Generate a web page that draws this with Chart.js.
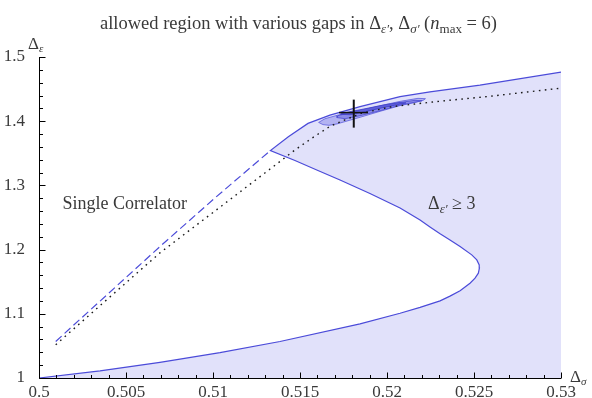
<!DOCTYPE html>
<html>
<head>
<meta charset="utf-8">
<script src="https://cdn.jsdelivr.net/npm/chart.js@4.4.1/dist/chart.umd.min.js"></script>
<style>
  html, body { margin: 0; padding: 0; background: #fff; }
  #wrap { width: 592px; height: 398px; }
</style>
</head>
<body>
<div id="wrap"><canvas id="chart" width="592" height="398"></canvas></div>
<script>
// lower boundary of the allowed region, (0.5, 1) out to the nose
const lowerX = [0.5, 0.50351, 0.50695, 0.5104, 0.51385, 0.51845, 0.52075, 0.5219, 0.52305, 0.52362, 0.5242, 0.52477, 0.52506, 0.52525, 0.52531];
const lowerY = [1.0, 1.0112, 1.0243, 1.0395, 1.0569, 1.0844, 1.1008, 1.1101, 1.1202, 1.1275, 1.1358, 1.1477, 1.1555, 1.1633, 1.1711];
// inner branch, nose back up to the kink
const innerX = [0.52531, 0.52529, 0.52516, 0.52487, 0.5242, 0.52362, 0.52305, 0.52247, 0.5219, 0.52075, 0.51902, 0.5173, 0.51603, 0.51471, 0.5133];
const innerY = [1.1711, 1.1762, 1.184, 1.1918, 1.2047, 1.2151, 1.2247, 1.2353, 1.2462, 1.2649, 1.2874, 1.3084, 1.3232, 1.3387, 1.3543];
// outer boundary, kink to the right edge
const outerX = [0.5133, 0.51433, 0.51546, 0.51672, 0.51845, 0.52075, 0.52247, 0.52534, 0.53];
const outerY = [1.3543, 1.3757, 1.3966, 1.4095, 1.4227, 1.4383, 1.4457, 1.4561, 1.4764];

// single correlator bound (dashed) and the other bound (dotted)
const dashX = [0.50096, 0.50695, 0.51011, 0.5133];
const dashY = [1.0569, 1.2047, 1.2804, 1.3543];
const dotX = [0.50096, 0.50695, 0.51328, 0.51471, 0.51569, 0.51672, 0.51759, 0.51856, 0.52029, 0.52282, 0.52575, 0.53];
const dotY = [1.0518, 1.1949, 1.3255, 1.3551, 1.3737, 1.3919, 1.4022, 1.4126, 1.4227, 1.4305, 1.4383, 1.4515];

// small islands near the Ising point
const isl1X = [0.51607, 0.51632, 0.51667, 0.51713, 0.51764, 0.51845, 0.5196, 0.52075, 0.52161, 0.52207, 0.52221, 0.52178, 0.52075, 0.51952, 0.51833, 0.51722, 0.51644, 0.51607];
const isl1Y = [1.3981, 1.3947, 1.3936, 1.3958, 1.3998, 1.4061, 1.4154, 1.4243, 1.4292, 1.4324, 1.4351, 1.4356, 1.4309, 1.4235, 1.416, 1.4098, 1.4039, 1.3981];
const isl2X = [0.51713, 0.51759, 0.51845, 0.5196, 0.52075, 0.52161, 0.52201, 0.52161, 0.52075, 0.5196, 0.51845, 0.51759, 0.51718, 0.51713];
const isl2Y = [1.4056, 1.4039, 1.4086, 1.4163, 1.425, 1.4297, 1.4319, 1.4325, 1.4292, 1.4222, 1.416, 1.4113, 1.4086, 1.4056];
const isl3X = [0.51736, 0.51787, 0.51874, 0.51989, 0.52075, 0.52109, 0.52063, 0.51989, 0.51874, 0.51787, 0.51741, 0.51736];
const isl3Y = [1.4107, 1.4101, 1.4148, 1.4219, 1.4266, 1.4285, 1.4288, 1.4257, 1.4194, 1.4148, 1.4123, 1.4107];

// Ising cross
const crossVX = [0.51809, 0.51809];
const crossVY = [1.39, 1.4336];
const crossHX = [0.51724, 0.51891];
const crossHY = [1.4134, 1.4134];

const xTickVals = [0.5, 0.505, 0.51, 0.515, 0.52, 0.525, 0.53];
const xTickLabels = ['0.5', '0.505', '0.51', '0.515', '0.52', '0.525', '0.53'];
const yTickVals = [1, 1.1, 1.2, 1.3, 1.4, 1.5];
const yTickLabels = ['1', '1.1', '1.2', '1.3', '1.4', '1.5'];

const SERIF = '"Liberation Serif", "DejaVu Serif", serif';
const TEXT = '#3a3a3a';
const BLUE = '#4b4bd9';

function pts(xs, ys) {
    return xs.map((x, i) => ({ x: x, y: ys[i] }));
}

const boundaryPts = pts(lowerX, lowerY).concat(pts(innerX, innerY), pts(outerX, outerY));
const regionPts = boundaryPts.concat([{ x: 0.53, y: 1.0 }]);

function lineSet(data, opts) {
    return Object.assign({
        data: data,
        showLine: true,
        pointRadius: 0,
        pointHoverRadius: 0,
        fill: false,
        tension: 0
    }, opts);
}

// rich text: runs of {t, f, dy}
function drawRuns(ctx, runs, x, y, align) {
    let total = 0;
    runs.forEach(r => {
        ctx.font = r.f;
        r.w = ctx.measureText(r.t).width;
        total += r.w;
    });
    let cx = align === 'center' ? x - total / 2 : x;
    runs.forEach(r => {
        ctx.font = r.f;
        ctx.fillText(r.t, cx, y + (r.dy || 0));
        cx += r.w;
    });
}

const MAIN = '18.5px ' + SERIF;
const SUB = 'italic 13px ' + SERIF;
const SUBUP = '13px ' + SERIF;

const frameTicks = {
    id: 'frameTicks',
    afterDatasetsDraw(chart) {
        const { ctx, chartArea: a, scales: { x, y } } = chart;
        const left = Math.floor(a.left) + 0.5;
        const bottom = Math.floor(a.bottom) + 0.5;
        ctx.save();
        ctx.strokeStyle = '#000';
        ctx.lineWidth = 1;
        ctx.beginPath();
        ctx.moveTo(left, Math.floor(a.top));
        ctx.lineTo(left, bottom);
        ctx.lineTo(Math.ceil(a.right), bottom);
        ctx.stroke();
        ctx.beginPath();
        // minor every 0.001 on x, every 0.02 on y
        for (let i = 0; i <= 30; i++) {
            const px = Math.round(x.getPixelForValue(0.5 + i * 0.001)) + 0.5;
            const len = i % 5 === 0 ? 6 : 3.5;
            ctx.moveTo(px, bottom);
            ctx.lineTo(px, bottom - len);
        }
        for (let i = 0; i <= 25; i++) {
            const py = Math.round(y.getPixelForValue(1 + i * 0.02)) + 0.5;
            const len = i % 5 === 0 ? 6 : 3.5;
            ctx.moveTo(left, py);
            ctx.lineTo(left + len, py);
        }
        ctx.stroke();
        ctx.restore();
    },
    afterDraw(chart) {
        const { ctx, chartArea: a, scales: { x, y } } = chart;
        ctx.save();
        ctx.fillStyle = TEXT;
        ctx.textBaseline = 'alphabetic';
        // title
        drawRuns(ctx, [
            { t: 'allowed region with various gaps in Δ', f: MAIN },
            { t: 'ε′', f: SUB, dy: 4 },
            { t: ', Δ', f: MAIN },
            { t: 'σ′', f: SUB, dy: 4 },
            { t: ' (', f: MAIN },
            { t: 'n', f: 'italic 18.5px ' + SERIF },
            { t: 'max', f: SUBUP, dy: 4 },
            { t: ' = 6)', f: MAIN }
        ], 298.5, 29, 'center');
        // axis labels
        drawRuns(ctx, [
            { t: 'Δ', f: '17px ' + SERIF },
            { t: 'ε', f: 'italic 11px ' + SERIF, dy: 3 }
        ], a.left - 11, 49, 'left');
        drawRuns(ctx, [
            { t: 'Δ', f: '17px ' + SERIF },
            { t: 'σ', f: 'italic 11px ' + SERIF, dy: 3 }
        ], a.right + 9, a.bottom + 4, 'left');
        // annotations placed in data coordinates
        drawRuns(ctx, [
            { t: 'Single Correlator', f: '18px ' + SERIF }
        ], x.getPixelForValue(0.50493), y.getPixelForValue(1.2731) + 6, 'center');
        drawRuns(ctx, [
            { t: 'Δ', f: '18px ' + SERIF },
            { t: 'ε′', f: SUB, dy: 4 },
            { t: ' ≥ 3', f: '18px ' + SERIF }
        ], x.getPixelForValue(0.52236), y.getPixelForValue(1.2726) + 6, 'left');
        ctx.restore();
    }
};

new Chart(document.getElementById('chart').getContext('2d'), {
    type: 'scatter',
    data: {
        datasets: [
            lineSet(regionPts, { borderWidth: 0, backgroundColor: '#e1e1fa', fill: 'shape', order: 10 }),
            lineSet(pts(isl1X, isl1Y), { borderWidth: 0.8, borderColor: '#5d5ddc', backgroundColor: '#b3b3f2', fill: 'shape', order: 8 }),
            lineSet(pts(isl2X, isl2Y), { borderWidth: 0.8, borderColor: '#4a4ad2', backgroundColor: '#8b8be8', fill: 'shape', order: 7 }),
            lineSet(pts(isl3X, isl3Y), { borderWidth: 0.8, borderColor: '#3c3cc8', backgroundColor: '#5f5fd8', fill: 'shape', order: 6 }),
            lineSet(boundaryPts, { borderWidth: 1.2, borderColor: BLUE, order: 4 }),
            lineSet(pts(dashX, dashY), { borderWidth: 1.2, borderColor: BLUE, borderDash: [8, 4], order: 4 }),
            lineSet(pts(dotX, dotY), { borderWidth: 1.4, borderColor: '#1a1a1a', borderDash: [1.6, 4.4], order: 3 }),
            lineSet(pts(crossVX, crossVY), { borderWidth: 2, borderColor: '#111', order: 1 }),
            lineSet(pts(crossHX, crossHY), { borderWidth: 1.5, borderColor: '#111', order: 1 })
        ]
    },
    options: {
        responsive: false,
        animation: false,
        events: [],
        layout: { padding: { top: 57, right: 31, left: 0, bottom: 0 } },
        plugins: {
            legend: { display: false },
            tooltip: { enabled: false },
            title: { display: false }
        },
        scales: {
            x: {
                type: 'linear',
                min: 0.5,
                max: 0.53,
                afterBuildTicks: s => { s.ticks = xTickVals.map(v => ({ value: v })); },
                afterFit: s => { s.height = 20; },
                grid: { display: false },
                border: { display: false },
                ticks: {
                    callback: (v, i) => xTickLabels[i],
                    font: { family: SERIF, size: 17 },
                    color: TEXT,
                    padding: -4,
                    maxRotation: 0,
                    autoSkip: false
                }
            },
            y: {
                type: 'linear',
                min: 1,
                max: 1.5,
                afterBuildTicks: s => { s.ticks = yTickVals.map(v => ({ value: v })); },
                afterFit: s => { s.width = 39; },
                grid: { display: false },
                border: { display: false },
                ticks: {
                    callback: (v, i) => yTickLabels[i],
                    font: { family: SERIF, size: 17 },
                    color: TEXT,
                    padding: 6,
                    autoSkip: false
                }
            }
        }
    },
    plugins: [frameTicks]
});
</script>
</body>
</html>
